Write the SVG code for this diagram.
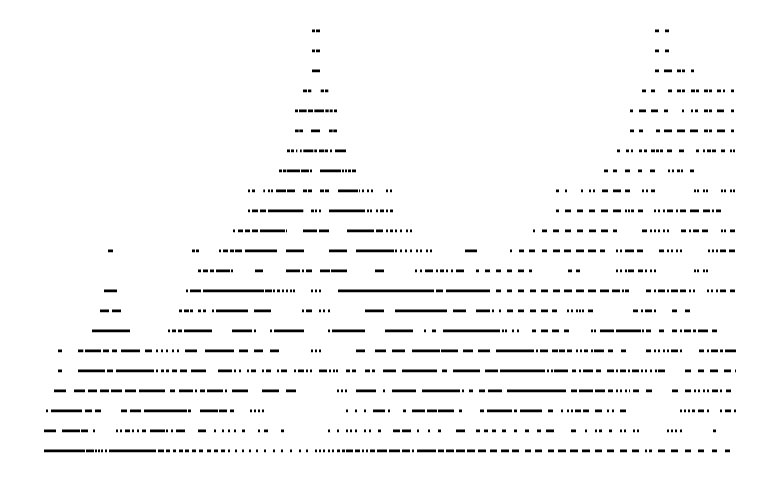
<svg xmlns="http://www.w3.org/2000/svg" width="779" height="482" viewBox="0 0 779 482">
<style>path{fill:none;stroke:#000;stroke-width:2.7}</style>
<rect width="779" height="482" fill="#fff"/>
<g id="rows" transform="translate(0,-0.2)">
<path d="M312 31H315M316 31H320M655 31H659M665 31H669"/>
<path d="M312 51H315M316 51H320M655 51H659M665 51H669"/>
<path d="M312 71H320M655 71H659M664 71H672M677 71H681M682 71H685M691 71H694"/>
<path d="M303 91H307M308 91H311.3M320.7 91H324M325 91H328.3M642 91H646M651 91H655M668 91H672M677 91H681M682 91H685M691 91H695M696 91H699M704 91H708M709 91H712M717 91H721M723 91H725M731 91H734"/>
<path d="M295 111H298M299 111H306.7M308 111H313M314.3 111H324M325.3 111H328.7M329.7 111H332.7M334 111H337M630 111H633M639 111H646M651 111H658M664 111H668M682 111H684M691 111H693M695 111H698M704 111H708M709 111H712M717 111H724M731 111H734"/>
<path d="M295 131H298.7M299.3 131H303M311 131H320M329 131H332.7M333.3 131H337M630 131H634M639 131H643M656 131H660M664 131H672M677 131H685M690 131H698M704 131H708M709 131H712M717 131H725M731 131H734"/>
<path d="M287 151H290M291 151H294M296 151H297.3M300 151H301.7M303.3 151H313.3M314.3 151H317M319 151H324.3M325 151H328M330 151H332M335 151H346M617 151H620M626 151H629M631 151H633M639 151H642M644 151H647M651 151H655M656 151H659M660 151H663M667 151H672M679 151H684M696 151H699M703 151H705M707 151H711M712 151H716M721 151H725M730 151H732M733 151H735"/>
<path d="M279 171H282M283 171H286M286.7 171H300M301 171H309M310 171H312M320 171H341M342 171H344M345 171H347M348 171H351M352 171H356M604 171H608M613 171H617M625 171H630M638 171H642M650 171H655M668 171H670M672 171H674M677 171H680M681 171H683M690 171H694"/>
<path d="M248 191H250M252 191H255M263.3 191H265M268 191H270M271 191H273M276 191H286M287 191H295M303 191H307M308 191H312M320 191H324M325 191H329M338 191H358M359 191H360M362 191H364M367 191H369M371 191H373M386 191H388M390 191H392M556 191H559M565 191H567M581 191H583M589 191H591M593 191H595M602 191H608M613 191H621M625 191H630M642 191H644M646 191H648M651 191H655M694 191H696M697 191H699M703 191H705M706 191H708M721 191H723M724 191H726M730 191H732M733 191H735"/>
<path d="M248 211H250M252 211H258M260 211H266M268 211H303.3M311 211H314M315 211H317M319 211H321M329 211H365M367 211H369M370 211H372M376 211H378M380 211H384M386 211H388M390 211H393M556 211H559M565 211H571M577 211H583M589 211H595M601 211H608M613 211H621M625 211H627M628 211H630M631 211H634M638 211H643M654 211H656M658 211H660M663 211H665M667 211H673M676 211H678M680 211H686M690 211H699M703 211H710M712 211H714M716 211H721"/>
<path d="M233 231H235M238 231H243M245 231H250M252 231H258M260 231H285M286 231H287M303 231H317M319 231H329M347 231H374M376 231H383M386 231H388M390 231H393M395 231H397M400 231H402M406 231H408M410 231H412M533 231H535M542 231H547M553 231H559M565 231H571M577 231H583M589 231H596M601 231H608M613 231H617M642 231H647M650 231H652M654 231H656M658 231H660M663 231H665M667 231H669M681 231H686M689 231H691M693 231H699M702 231H708M721 231H723M724 231H726M730 231H735"/>
<path d="M108 251H113M192 251H195M196 251H199M219 251H221M223 251H228M230 251H234M235 251H242M245 251H277M286 251H304M329 251H347M356 251H394M395 251H397M400 251H402M405 251H407M410 251H412M416 251H418M420 251H422M426 251H428M430 251H432M465 251H477M510 251H512M519 251H524M529 251H535M542 251H547M553 251H560M564 251H571M576 251H584M588 251H596M600 251H605M616 251H618M620 251H622M625 251H634M637 251H643M659 251H664M667 251H669M671 251H673M676 251H678M680 251H682M708 251H710M712 251H714M716 251H718M720 251H726M729 251H735"/>
<path d="M198 271H201M203 271H208M210 271H214M216 271H230M231 271H233M255 271H263M286 271H300M302 271H304M306 271H312M320 271H330M331 271H347M375 271H384M415 271H417M420 271H422M425 271H433M436 271H438M440 271H444M446 271H448M451 271H453M456 271H464M476 271H479M485 271H490M496 271H501M507 271H512M518 271H524M529 271H532M568 271H572M576 271H580M616 271H618M620 271H622M625 271H627M628 271H634M638 271H643M645 271H647M650 271H652M654 271H656M694 271H696M697 271H699M703 271H705M706 271H708"/>
<path d="M104 291H117M186 291H188M190 291H201M203 291H264M265 291H272M273 291H275M277 291H280M282 291H284M286 291H288M290 291H292M293 291H295M311 291H313M315 291H317M319 291H321M338 291H434M436 291H443M446 291H490M496 291H501M507 291H512M518 291H524M530 291H536M541 291H548M553 291H560M564 291H572M576 291H584M588 291H596M600 291H609M612 291H620M622 291H624M625 291H629M646 291H651M654 291H656M658 291H665M667 291H669M671 291H678M680 291H686M689 291H691M693 291H695M707 291H709M711 291H713M716 291H718M720 291H726M730 291H735"/>
<path d="M100 311H109M112 311H121M179 311H182M184 311H189M190 311H193M198 311H201M203 311H206M212 311H214M216 311H248M254 311H271M302 311H304M306 311H312M319 311H321M323 311H325M328 311H330M365 311H384M395 311H447M453 311H466M476 311H490M492 311H494M499 311H501M507 311H513M518 311H524M530 311H536M541 311H548M552 311H557M567 311H569M571 311H573M576 311H578M579 311H581M582 311H584M588 311H593M633 311H638M641 311H643M645 311H652M654 311H656M672 311H677M685 311H690"/>
<path d="M92 331H130M168 331H170M172 331H176M178 331H182M184 331H212M232 331H252M254 331H256M270 331H272M274 331H304M328 331H330M332 331H365M385 331H413M424 331H426M432 331H436M443 331H500M502 331H504M505 331H507M512 331H514M517 331H519M532 331H536M541 331H548M552 331H559M564 331H569M591 331H593M594 331H596M600 331H614M616 331H641M642 331H644M646 331H651M659 331H664M672 331H677M680 331H682M684 331H691M693 331H696M698 331H708M712 331H717"/>
<path d="M58 351H62M78 351H83.3M85 351H101M103 351H109M112 351H117M121 351H140M145 351H152M156 351H158M161 351H163M166 351H168M172 351H174M177 351H179M185 351H197M205 351H234M239 351H248M254 351H263M270 351H279M311 351H313M315 351H317M319 351H321M356 351H365M375 351H386M392 351H405M412 351H440M441 351H458M463 351H473M478 351H490M496 351H534M536 351H538M540 351H548M552 351H558M559 351H565M567 351H572M576 351H578M580 351H582M584 351H588M591 351H593M594 351H604M608 351H613M621 351H626M646 351H651M654 351H656M658 351H660M663 351H665M667 351H669M671 351H678M680 351H682M699 351H704M707 351H709M711 351H718M720 351H723M725 351H736"/>
<path d="M58 371H62M78 371H105M107 371H113M116 371H154M156 371H158M161 371H164M166 371H169M172 371H177M180 371H187M191 371H206M218 371H232M234 371H236M239 371H241M247 371H249M251 371H256M262 371H264M266 371H271M277 371H279M281 371H287M294 371H296M298 371H304M306 371H308M310 371H312M319 371H327M329 371H331M333 371H335M336 371H338M346 371H350M352 371H356M365 371H370M372 371H375M383 371H396M402 371H437M442 371H447M453 371H480M485 371H498M500 371H545M547 371H549M551 371H553M554 371H568M572 371H576M579 371H581M583 371H593M596 371H601M607 371H614M616 371H618M620 371H626M628 371H630M632 371H639M641 371H643M645 371H647M650 371H652M655 371H657M658 371H665M685 371H691M698 371H704M710 371H718M724 371H731M735 371H736"/>
<path d="M54 391H66M74 391H85M88 391H97M100 391H109M111 391H122M125 391H136M139 391H165M170 391H175M179 391H193M195 391H197M200 391H205M207 391H223M225 391H227M232 391H248M262 391H279M286 391H296M337 391H339M341 391H343M345 391H347M356 391H376M383 391H385M392 391H416M422 391H460M462 391H464M469 391H473M479 391H485M488 391H502M507 391H566M571 391H577M579 391H593M595 391H605M608 391H613M616 391H618M620 391H622M625 391H627M629 391H630M633 391H639M646 391H652M672 391H678M685 391H691M694 391H696M698 391H700M703 391H705M707 391H709M712 391H718M720 391H722M726 391H731"/>
<path d="M46 411H48M51 411H82M85 411H92M95 411H101M121 411H127M130 411H141M144 411H187M188 411H191M200 411H218M219 411H227M230 411H234M250 411H252M254 411H256M258 411H260M262 411H264M346 411H348M355 411H357M364 411H366M373 411H385M388 411H390M403 411H406M412 411H425M427 411H437M438 411H454M459 411H462M480 411H484M487 411H512M514 411H517M520 411H542M548 411H553M561 411H563M567 411H569M571 411H573M575 411H581M583 411H589M595 411H602M607 411H609M612 411H614M620 411H626M680 411H682M684 411H686M688 411H690M692 411H695M698 411H704M707 411H709M720 411H722M725 411H731M734 411H736"/>
<path d="M44 431H56M62 431H80M81 431H88M93 431H95M116 431H118M120 431H122M125 431H130M132 431H134M137 431H139M142 431H146M150 431H165M166 431H168M171 431H173M176 431H185M198 431H206M214 431H216M222 431H224M228 431H230M234 431H236M242 431H245M258 431H260M264 431H268M281 431H284M328 431H330M337 431H339M346 431H348M350 431H352M355 431H357M364 431H366M369 431H371M378 431H381M393 431H400M402 431H411M417 431H419M428 431H430M438 431H441M456 431H465M476 431H480M484 431H488M492 431H496M502 431H506M514 431H517M525 431H529M537 431H541M546 431H554M571 431H576M585 431H587M595 431H597M599 431H602M609 431H612M620 431H622M624 431H626M633 431H635M637 431H639M667 431H669M671 431H673M675 431H677M680 431H682M713 431H716"/>
<path d="M44 451H85M86 451H94M95 451H97M98 451H100M101 451H103M105 451H107M109 451H156M158 451H164M166 451H170M173 451H176M179 451H183M185 451H189M192 451H196M199 451H203M207 451H211M214 451H218M221 451H225M228 451H230M235 451H237M242 451H244M249 451H251M256 451H258M264 451H266M273 451H275M281 451H283M290 451H292M299 451H301M306 451H308M315 451H317M319 451H321M323 451H325M328 451H330M332 451H334M337 451H340M342 451H345M346 451H353M355 451H360M362 451H364M366 451H368M370 451H375M377 451H387M389 451H400M402 451H410M412 451H414M417 451H436M438 451H444M446 451H454M456 451H465M467 451H475M478 451H486M490 451H497M501 451H509M512 451H519M525 451H531M535 451H542M548 451H554M558 451H566M570 451H578M582 451H590M595 451H602M607 451H614M620 451H627M632 451H639M645 451H647M649 451H652M658 451H665M671 451H678M685 451H691M698 451H704M712 451H717M725 451H730"/>
</g>
</svg>
